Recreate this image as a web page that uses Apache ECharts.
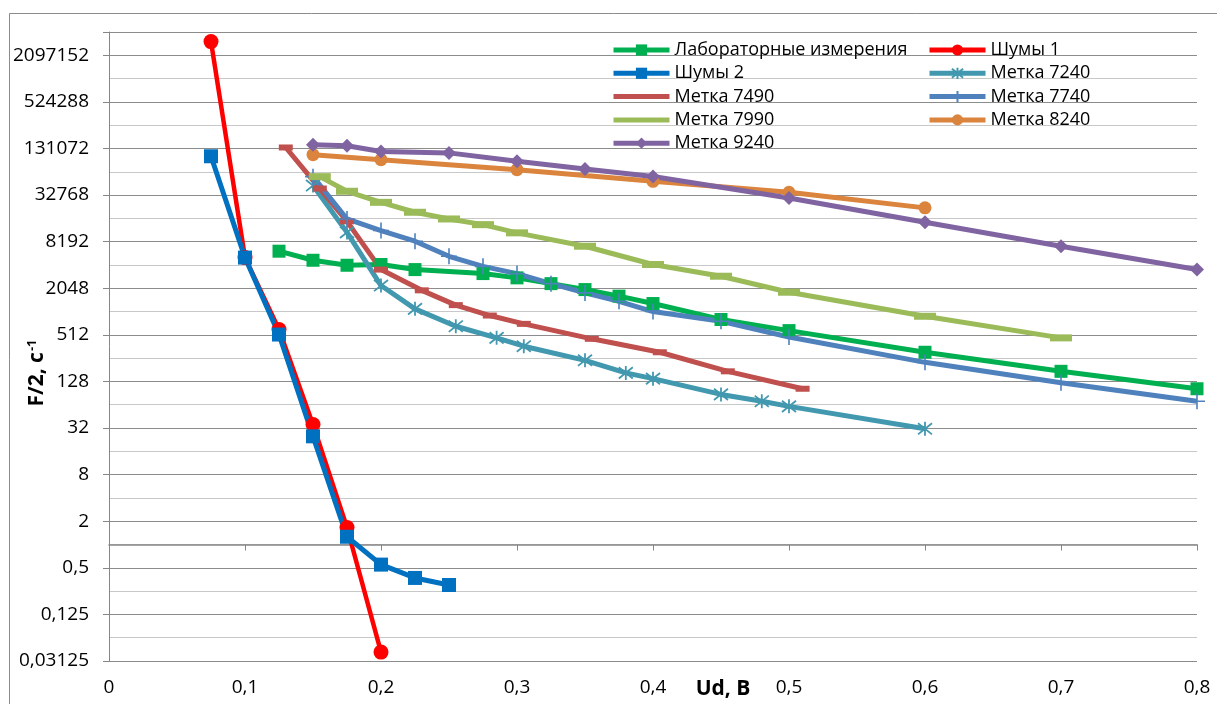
<!DOCTYPE html>
<html><head><meta charset="utf-8">
<script src="https://cdn.jsdelivr.net/npm/echarts@6/dist/echarts.min.js"></script>
<style>html,body{margin:0;padding:0;background:#fff}#c{width:1217px;height:704px}</style>
</head><body><div id="c"></div>
<script>
const FONT = '"Open Sans", sans-serif';
const xTickLabels = ['0','0,1','0,2','0,3','0,4','0,5','0,6','0,7','0,8'];
const yTickLabels = ['0,03125','0,125','0,5','2','8','32','128','512','2048','8192','32768','131072','524288','2097152'];

const labX = [0.125,0.15,0.175,0.2,0.225,0.275,0.3,0.325,0.35,0.375,0.4,0.45,0.5,0.6,0.7,0.8];
const labY = [6170,4710,4060,4150,3570,3170,2790,2350,1970,1620,1300,808,581,305,173,103];

const noise1X = [0.075,0.1,0.125,0.15,0.175,0.2];
const noise1Y = [3150000,5100,600,35.5,1.66,0.0407];

const noise2X = [0.075,0.1,0.125,0.15,0.175,0.2,0.225,0.25];
const noise2Y = [104000,5100,517,25,1.26,0.55,0.37,0.30];

const m7240X = [0.15,0.175,0.2,0.225,0.255,0.285,0.305,0.35,0.38,0.4,0.45,0.48,0.5,0.6];
const m7240Y = [43500,10800,2220,1110,661,468,365,240,165,139,87,71,61,31.3];

const m7490X = [0.13,0.155,0.175,0.2,0.23,0.255,0.28,0.305,0.355,0.405,0.455,0.51];
const m7490Y = [135000,39800,15000,3570,1925,1240,910,710,455,305,173,103];

const m7740X = [0.15,0.175,0.2,0.225,0.25,0.275,0.3,0.325,0.35,0.375,0.4,0.45,0.5,0.6,0.7,0.8];
const m7740Y = [56700,16100,11400,8300,5300,3930,3170,2350,1785,1390,1024,766,481,226,123,71];

const m7990X = [0.155,0.175,0.2,0.225,0.25,0.275,0.3,0.35,0.4,0.45,0.5,0.6,0.7];
const m7990Y = [56700,36700,26400,19650,16100,13600,10650,7150,4150,2930,1820,890,468];

const m8240X = [0.15,0.2,0.3,0.4,0.5,0.6];
const m8240Y = [109000,94000,69800,49300,35600,22400];

const m9240X = [0.15,0.175,0.2,0.25,0.3,0.35,0.4,0.5,0.6,0.7,0.8];
const m9240Y = [147000,142000,120000,115000,89600,71300,56800,30100,14600,7150,3570];

const ASTER = 'path://M5,0L5,10M1,1L9,9M1,9L9,1';
const PLUS = 'path://M5,0L5,10M0,5L10,5';

function mk(name, xs, ys, color, symbol, size, lw, stroke) {
  return {
    name, type: 'line', xAxisIndex: 0, yAxisIndex: 0,
    data: xs.map((x, i) => [x, Math.log2(ys[i])]),
    symbol, symbolSize: size,
    lineStyle: { color, width: lw },
    itemStyle: stroke ? { color, borderColor: color, borderWidth: stroke } : { color },
    emphasis: { disabled: true },
    z: 3
  };
}

const series = [
  mk('Лабораторные измерения', labX, labY, '#00B050', 'rect', 13, 5),
  mk('Шумы 1', noise1X, noise1Y, '#FF0000', 'circle', 15, 4.5),
  mk('Шумы 2', noise2X, noise2Y, '#0070C0', 'rect', 14, 5),
  mk('Метка 7240', m7240X, m7240Y, '#4198AF', ASTER, 14, 5, 1.8),
  mk('Метка 7490', m7490X, m7490Y, '#C0504D', 'rect', [14, 6], 5),
  mk('Метка 7740', m7740X, m7740Y, '#4F81BD', PLUS, 16, 5, 1.6),
  mk('Метка 7990', m7990X, m7990Y, '#9BBB59', 'rect', [22, 7], 5),
  mk('Метка 8240', m8240X, m8240Y, '#DB843D', 'circle', 13, 5),
  mk('Метка 9240', m9240X, m9240Y, '#8064A2', 'diamond', 14, 5)
];

const legendBase = {
  orient: 'vertical', top: 36, itemWidth: 56, itemHeight: 14, itemGap: 5.3,
  selectedMode: false,
  lineStyle: { width: 5 },
  textStyle: { fontFamily: FONT, fontSize: 18, color: '#000' }
};

const chart = echarts.init(document.getElementById('c'));
chart.setOption({
  animation: false,
  backgroundColor: '#fff',
  grid: { left: 109, top: 32, right: 20, bottom: 43, containLabel: false },
  xAxis: [
    {
      type: 'value', min: 0, max: 0.8, interval: 0.1, position: 'bottom',
      axisLine: { show: false, onZero: false },
      axisTick: { show: false },
      splitLine: { show: false },
      axisLabel: {
        margin: 17, fontFamily: FONT, fontSize: 19, color: '#000',
        formatter: v => xTickLabels[Math.round(v * 10)] || ''
      }
    },
    {
      type: 'value', min: 0, max: 0.8, interval: 0.1, position: 'bottom',
      axisLine: { show: true, onZero: true, lineStyle: { color: '#868686', width: 1.5 } },
      axisTick: { show: true, length: 6, lineStyle: { color: '#868686', width: 1 } },
      splitLine: { show: false },
      axisLabel: { show: false }
    }
  ],
  yAxis: {
    type: 'value', min: -5, max: 22, interval: 2,
    axisLine: { show: true, lineStyle: { color: '#868686', width: 1 } },
    axisTick: { show: true, length: 6, lineStyle: { color: '#868686' } },
    axisLabel: {
      margin: 20, fontFamily: FONT, fontSize: 19, color: '#000',
      formatter: v => { const i = (v + 5) / 2; return Number.isInteger(i) && yTickLabels[i] ? yTickLabels[i] : ''; }
    },
    splitLine: { show: true, lineStyle: { color: '#8c8c8c', width: 1 } },
    minorTick: { show: false, splitNumber: 2 },
    minorSplitLine: { show: true, lineStyle: { color: '#c8c8c8', width: 1 } }
  },
  legend: [
    Object.assign({}, legendBase, {
      left: 606,
      data: [
        { name: 'Лабораторные измерения' },
        { name: 'Шумы 2' },
        { name: 'Метка 7490', itemStyle: { opacity: 0 } },
        { name: 'Метка 7990', itemStyle: { opacity: 0 } },
        { name: 'Метка 9240' }
      ]
    }),
    Object.assign({}, legendBase, {
      left: 922,
      data: [
        { name: 'Шумы 1' },
        { name: 'Метка 7240' },
        { name: 'Метка 7740' },
        { name: 'Метка 8240' }
      ]
    })
  ],
  graphic: [
    { type: 'rect', x: 9.5, y: 13.5, silent: true, z: -10,
      shape: { x: 0, y: 0, width: 1400, height: 900 },
      style: { fill: 'none', stroke: '#8c8c8c', lineWidth: 1 } },
    { type: 'text', x: 723, y: 689, silent: true,
      style: { text: 'Ud, В', font: 'bold 21px "Open Sans", sans-serif', fill: '#000', align: 'center', verticalAlign: 'middle' } },
    { type: 'text', x: 37, y: 373, rotation: Math.PI / 2, silent: true,
      style: {
        text: '{b|F/2, с}{s|-1}', align: 'center', verticalAlign: 'middle', fill: '#000',
        rich: {
          b: { fontFamily: FONT, fontWeight: 'bold', fontSize: 21, fill: '#000' },
          s: { fontFamily: FONT, fontWeight: 'bold', fontSize: 13, fill: '#000', padding: [0, 0, 9, 1] }
        }
      } }
  ],
  series
});
</script>
</body></html>
